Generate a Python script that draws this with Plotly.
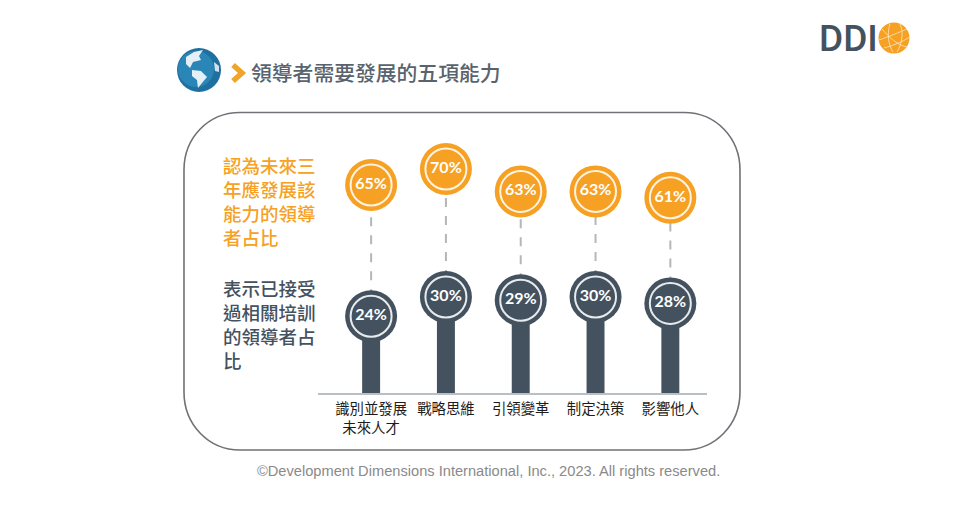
import plotly.graph_objects as go

# chart data
categories = ['識別並發展<br>未來人才', '戰略思維', '引領變革', '制定決策', '影響他人']
future_pct = [65, 70, 63, 63, 61]
trained_pct = [24, 30, 29, 30, 28]

title_text = '領導者需要發展的五項能力'
future_note = ['認為未來三', '年應發展該', '能力的領導', '者占比']
trained_note = ['表示已接受', '過相關培訓', '的領導者占', '比']
footer_text = '©Development Dimensions International, Inc., 2023. All rights reserved.'

ORANGE = '#f6a124'
SLATE = '#44525f'
CJK = 'Noto Sans CJK TC'


# page pixels -> paper coords, the plot area is x 318-707 and y 0-393
def px(x):
    return (x - 318) / 389


def py(y):
    return (393 - y) / 393


def path(points, close=False):
    # points are (cmd, x, y, ...) in page pixels
    out = []
    for p in points:
        nums = []
        for i in range(1, len(p), 2):
            nums.append('{:.4f},{:.4f}'.format(px(p[i]), py(p[i + 1])))
        out.append(p[0] + ' ' + ' '.join(nums))
    return ' '.join(out) + (' Z' if close else '')


def paper_shape(points, fill=None, line=None, width=0, close=False):
    return dict(type='path', xref='paper', yref='paper', layer='above',
                path=path(points, close),
                fillcolor=fill if fill else 'rgba(0,0,0,0)',
                line=dict(color=line if line else 'rgba(0,0,0,0)', width=width))


def circle(cx, cy, r, fill):
    return dict(type='circle', xref='paper', yref='paper', layer='above',
                x0=px(cx - r), x1=px(cx + r), y0=py(cy + r), y1=py(cy - r),
                fillcolor=fill, line=dict(width=0))


fig = go.Figure()

# dark stems
fig.add_trace(go.Bar(x=categories, y=trained_pct, width=0.24,
                     marker=dict(color=SLATE, line=dict(width=0))))

# dashed connectors between the two circles
line_x = []
line_y = []
for c, t, f in zip(categories, trained_pct, future_pct):
    line_x += [c, c, None]
    line_y += [t, f, None]
fig.add_trace(go.Scatter(x=line_x, y=line_y, mode='lines',
                         line=dict(color='#b4b7ba', width=2, dash='9px,9px')))

# circles, ring and label for both series
for vals, col in [(future_pct, ORANGE), (trained_pct, SLATE)]:
    fig.add_trace(go.Scatter(x=categories, y=vals, mode='markers',
                             marker=dict(size=52, color=col, line=dict(width=0))))
    fig.add_trace(go.Scatter(x=categories, y=vals, mode='markers+text',
                             text=['{}%'.format(v) for v in vals],
                             textposition='middle center',
                             textfont=dict(family='Lato', size=16, color='#ffffff', weight='bold'),
                             marker=dict(size=41, color='rgba(0,0,0,0)',
                                         line=dict(color='#fdf3e3' if col == ORANGE else '#e8ebee', width=2))))

shapes = []

# rounded frame
shapes.append(paper_shape([
    ('M', 240, 112.5), ('L', 684, 112.5),
    ('C', 716, 112.5, 740, 138, 740, 170), ('L', 740, 392),
    ('C', 740, 424, 716, 450, 684, 450), ('L', 240, 450),
    ('C', 208, 450, 184, 424, 184, 392), ('L', 184, 170),
    ('C', 184, 138, 208, 112.5, 240, 112.5),
], line='#6f7276', width=1.6, close=True))

# globe in front of the title
shapes.append(circle(199, 70, 22, '#1f6f9f'))
shapes.append(circle(196, 69, 18, '#2b86b8'))
shapes.append(paper_shape([('M', 186, 57), ('L', 194, 52), ('L', 203, 50), ('L', 199, 56), ('L', 201, 60),
                           ('L', 193, 62), ('L', 190, 68), ('L', 186, 64)], fill='#e4f0f6', close=True))
shapes.append(paper_shape([('M', 192, 70), ('L', 201, 71), ('L', 207, 77), ('L', 202, 83),
                           ('L', 198, 88), ('L', 197, 80), ('L', 192, 76)], fill='#e4f0f6', close=True))
shapes.append(paper_shape([('M', 214, 62), ('L', 219, 66), ('L', 219, 72), ('L', 215, 71)],
                          fill='#cfe3ee', close=True))

# chevron
shapes.append(paper_shape([('M', 233, 65), ('L', 242, 73), ('L', 233, 81)],
                          line='#f0a52a', width=5.5))

# logo globe
shapes.append(circle(894, 38, 15.5, ORANGE))
for pts in [
    [('M', 882, 29), ('C', 890, 38, 898, 46, 908, 47)],
    [('M', 879, 40), ('C', 888, 37, 900, 32, 907, 29)],
    [('M', 890, 24), ('C', 887, 33, 888, 44, 893, 52)],
    [('M', 900, 24), ('C', 904, 32, 902, 44, 897, 52)],
    [('M', 884, 48), ('C', 892, 46, 902, 42, 910, 37)],
]:
    shapes.append(paper_shape(pts, line='#fde6c2', width=0.8))

annotations = []


def add_text(x, y, text, size, color, family=CJK, anchor='left', weight='normal'):
    annotations.append(dict(xref='paper', yref='paper', x=px(x), y=py(y), text=text,
                            showarrow=False, xanchor=anchor, yanchor='middle', align='left',
                            borderpad=0, borderwidth=0,
                            font=dict(family=family, size=size, color=color, weight=weight)))


add_text(251, 72, title_text, 20.8, '#59636d', weight=500)
add_text(223, 201, '<br>'.join(future_note), 18.5, ORANGE, weight=500)
add_text(223, 324, '<br>'.join(trained_note), 18.5, SLATE, weight=500)
add_text(257, 471, footer_text, 14.65, '#8a8a8a', family='Liberation Sans')
add_text(819, 38.5, 'DDI', 37, SLATE, family='Roboto', weight=500)

fig.update_layout(
    width=959, height=530,
    margin=dict(l=318, r=252, t=0, b=137, pad=0),
    paper_bgcolor='white', plot_bgcolor='white',
    showlegend=False, barmode='overlay',
    shapes=shapes, annotations=annotations,
    xaxis=dict(type='category', categoryorder='array', categoryarray=categories,
               range=[-0.71, 4.49], showgrid=False, zeroline=False, ticks='',
               tickangle=0, ticklabelstandoff=2,
               tickfont=dict(family=CJK, size=14.4, color='#1c1c1c'),
               showline=True, linecolor='#b9bfc4', linewidth=1.5),
    yaxis=dict(range=[0, 122.8], visible=False),
)

# the page's default body margin would push everything 8px off
fig.write_html('out.html', config=dict(displayModeBar=False),
               post_script="document.body.style.margin='0';")
